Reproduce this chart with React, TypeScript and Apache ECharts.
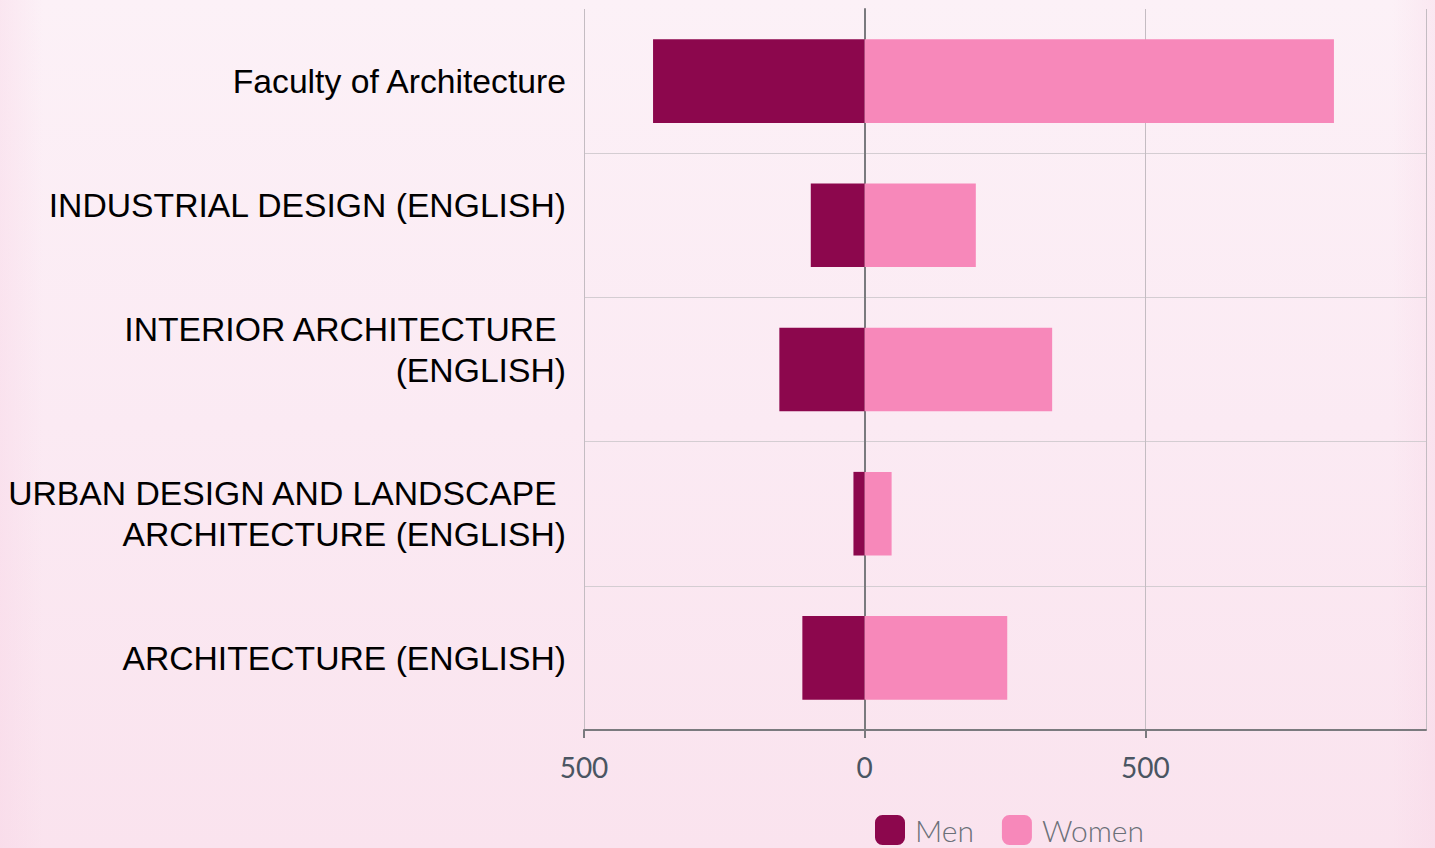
import React, { useEffect, useRef } from "react";
import * as echarts from "echarts";

const categories = [
  "Faculty of Architecture",
  "INDUSTRIAL DESIGN (ENGLISH)",
  "INTERIOR ARCHITECTURE \n(ENGLISH)",
  "URBAN DESIGN AND LANDSCAPE \nARCHITECTURE (ENGLISH)",
  "ARCHITECTURE (ENGLISH)",
];
const menValues = [377, 96, 152, 20, 111];
const womenValues = [836, 198, 334, 48, 254];
const seriesNames = ["Men", "Women"];

// trailing blank lines reproduce the reference's label placement
const labelTrail = ["", "\n", "\n", "", ""];

export default function App() {
  const ref = useRef<HTMLDivElement>(null);
  useEffect(() => {
    if (!ref.current) return;
    const chart = echarts.init(ref.current, null, { renderer: "svg" });
    chart.setOption({
      animation: false,
      grid: { left: 584, right: 9, top: 9, bottom: 118, containLabel: false },
      legend: {
        data: seriesNames,
        left: 875,
        top: 815,
        padding: 0,
        itemWidth: 30,
        itemHeight: 30,
        itemGap: 28,
        icon: "roundRect",
        textStyle: {
          fontFamily: "Lato",
          fontSize: 30,
          lineHeight: 30,
          color: "#6b7078",
          fontWeight: 300,
          padding: [0, 0, 0, 5],
        },
      },
      xAxis: {
        type: "value",
        min: -500,
        max: 1000,
        interval: 500,
        axisLine: { show: true, lineStyle: { color: "#7a7a7e", width: 2 } },
        axisTick: { show: true, length: 8, lineStyle: { color: "#7a7a7e", width: 2 } },
        axisLabel: {
          margin: 23,
          fontFamily: "Lato",
          fontSize: 28,
          color: "#4a5562",
          showMaxLabel: false,
          formatter: (v: number) => (v === 1000 ? "" : String(Math.abs(v))),
        },
        splitLine: { show: true, lineStyle: { color: "#c4bcc2", width: 1 } },
      },
      yAxis: {
        type: "category",
        data: categories,
        inverse: true,
        axisLine: { show: true, lineStyle: { color: "#7a7a7e", width: 2 } },
        axisTick: { show: true, alignWithLabel: true, length: 8, lineStyle: { color: "#7a7a7e", width: 1 } },
        axisLabel: {
          margin: 18,
          fontFamily: "Liberation Sans",
          fontSize: 33.7,
          lineHeight: 41,
          color: "#000000",
          align: "right",
          formatter: (v: string, i: number) => v + (labelTrail[i] || ""),
        },
        splitLine: {
          show: true,
          showMinLine: false,
          showMaxLine: false,
          lineStyle: { color: "#d4cdd2", width: 1 },
        },
      },
      series: [
        {
          name: "Men",
          type: "bar",
          stack: "total",
          barCategoryGap: "42%",
          itemStyle: { color: "#8c074d" },
          data: menValues.map((v) => -v),
        },
        {
          name: "Women",
          type: "bar",
          stack: "total",
          barCategoryGap: "42%",
          itemStyle: { color: "#f788ba" },
          data: womenValues,
        },
      ],
    });
    return () => chart.dispose();
  }, []);
  return (
    <div
      style={{
        position: "fixed",
        left: 0,
        top: 0,
        width: 1435,
        height: 848,
        background:
          "linear-gradient(90deg, rgba(247,210,228,0.35) 0%, rgba(255,255,255,0) 3%, rgba(255,255,255,0) 97%, rgba(247,210,228,0.3) 100%), linear-gradient(180deg, #fcf1f7 0%, #fbeaf3 50%, #fae3ee 100%)",
      }}
    >
      <div ref={ref} style={{ width: 1435, height: 848 }} />
    </div>
  );
}
